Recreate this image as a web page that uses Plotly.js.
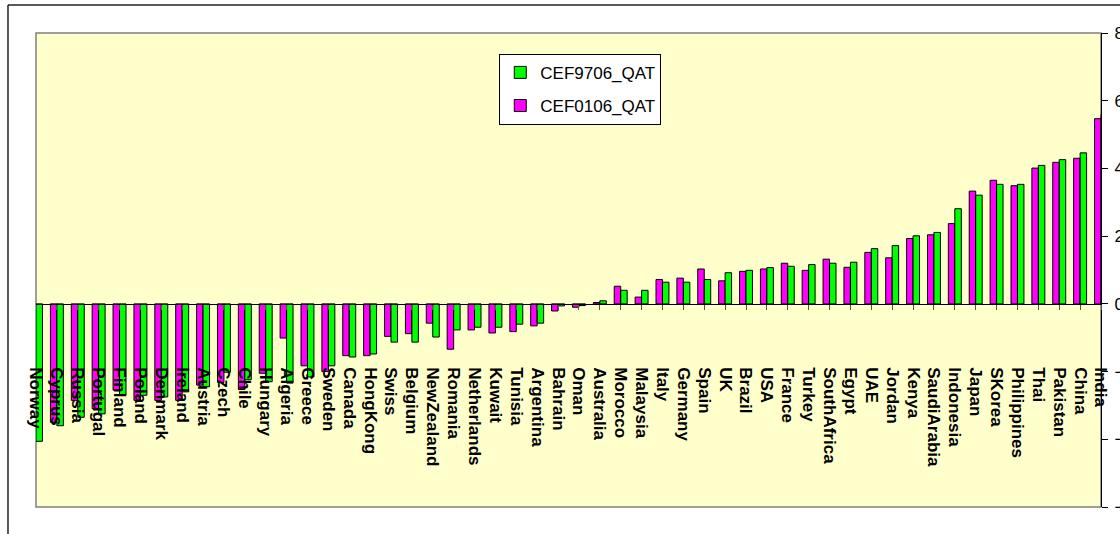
<!DOCTYPE html>
<html>
<head>
<meta charset="utf-8">
<script src="https://cdn.plot.ly/plotly-3.0.1.min.js"></script>
<style>html,body{margin:0;padding:0;background:#fff;}#chart{width:1120px;height:534px;}</style>
</head>
<body>
<div id="chart"></div>
<script>
const countries = ["Norway","Cyprus","Russia","Portugal","Finland","Poland","Denmark","Ireland","Austria","Czech","Chile","Hungary","Algeria","Greece","Sweden","Canada","HongKong","Swiss","Belgium","NewZealand","Romania","Netherlands","Kuwait","Tunisia","Argentina","Bahrain","Oman","Australia","Morocco","Malaysia","Italy","Germany","Spain","UK","Brazil","USA","France","Turkey","SouthAfrica","Egypt","UAE","Jordan","Kenya","SaudiArabia","Indonesia","Japan","SKorea","Philippines","Thai","Pakistan","China","India"];

const cef0106 = [-3.7,-3.5,-2.85,-3.1,-2.55,-2.85,-2.85,-2.85,-2.4,-2.32,-2.53,-2.05,-1.01,-1.83,-2.0,-1.53,-1.53,-0.96,-0.88,-0.57,-1.34,-0.77,-0.86,-0.82,-0.65,-0.21,-0.10,0.04,0.52,0.20,0.72,0.76,1.03,0.68,0.96,1.03,1.20,0.99,1.32,1.08,1.52,1.36,1.93,2.04,2.37,3.33,3.65,3.49,4.01,4.18,4.30,5.47];

const cef9706 = [-4.06,-3.6,-3.35,-3.25,-2.7,-2.7,-2.75,-2.6,-2.45,-2.02,-2.24,-2.3,-2.34,-2.16,-1.83,-1.57,-1.48,-1.13,-1.13,-0.98,-0.77,-0.69,-0.69,-0.60,-0.57,-0.06,-0.05,0.09,0.40,0.40,0.64,0.64,0.72,0.92,0.99,1.07,1.11,1.16,1.20,1.23,1.63,1.72,2.01,2.11,2.81,3.21,3.53,3.53,4.09,4.26,4.46,5.6];

const yTicks = [-6,-4,-2,0,2,4,6,8];

const traces = [
  {type:'bar', name:'CEF0106_QAT', x:countries, y:cef0106, legendgroup:'b', legendrank:2,
   marker:{color:'#FF00FF', line:{color:'#000000', width:1}}},
  {type:'bar', name:'CEF9706_QAT', x:countries, y:cef9706, legendgroup:'a', legendrank:1,
   marker:{color:'#00FF00', line:{color:'#000000', width:1}}}
];

const layout = {
  width:1120, height:534,
  margin:{l:36, r:19, t:33, b:27, pad:0},
  paper_bgcolor:'#FFFFFF',
  plot_bgcolor:'#FFFFCC',
  barmode:'group', bargap:0.38, bargroupgap:0,
  showlegend:true,
  legend:{x:0.435, y:0.956, xanchor:'left', yanchor:'top',
    bgcolor:'#FFFFFF', bordercolor:'#000000', borderwidth:1,
    traceorder:'grouped', tracegroupgap:8,
    font:{family:'Liberation Sans, Arial, sans-serif', size:17, color:'#000'}},
  xaxis:{type:'category', range:[0,51], anchor:'free', position:6/14,
    showline:true, linecolor:'#000000', linewidth:1,
    ticks:'outside', ticklen:5, tickcolor:'#555555', tickwidth:1,
    tickmode:'array', tickvals:countries, ticktext:countries,
    tickangle:90, ticklabelstandoff:54,
    tickfont:{family:'Liberation Sans, Arial, sans-serif', size:17, weight:'bold', color:'#000'},
    showgrid:false, zeroline:false, automargin:false, fixedrange:true},
  yaxis:{range:[-6,8], side:'right', tickmode:'array', tickvals:yTicks,
    showline:true, linecolor:'#000000', linewidth:1,
    ticks:'outside', ticklen:6, tickcolor:'#000000', ticklabelstandoff:3,
    tickfont:{family:'Liberation Sans, Arial, sans-serif', size:17, color:'#000'},
    showgrid:false, zeroline:false, automargin:false, fixedrange:true},
  shapes:[
    {type:'rect', xref:'paper', yref:'paper', x0:0, x1:1, y0:0, y1:1,
     line:{color:'#808080', width:1.5}, fillcolor:'rgba(0,0,0,0)', layer:'below'},
    {type:'line', xref:'paper', yref:'paper', x0:-0.0263, x1:-0.0263, y0:-0.2, y1:1.059,
     line:{color:'#222222', width:1.5}},
    {type:'line', xref:'paper', yref:'paper', x0:-0.0263, x1:1.2, y0:1.059, y1:1.059,
     line:{color:'#222222', width:1.5}}
  ]
};

Plotly.newPlot('chart', traces, layout, {displayModeBar:false, staticPlot:true});
</script>
</body>
</html>
